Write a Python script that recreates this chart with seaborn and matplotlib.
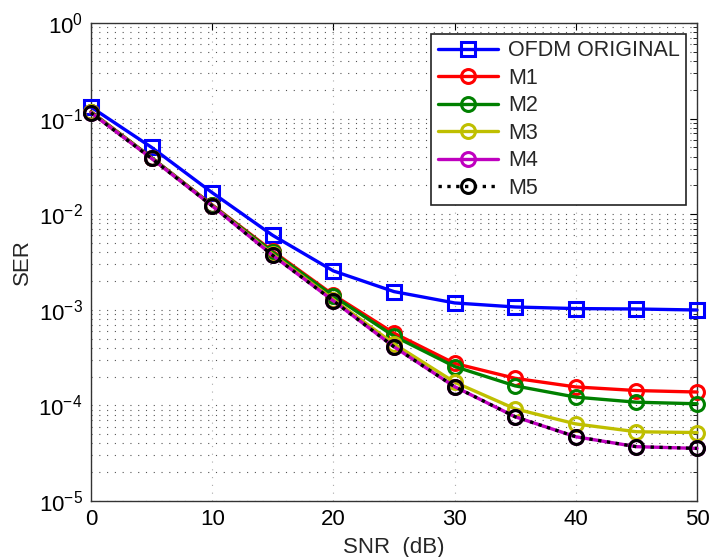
import matplotlib
matplotlib.use("Agg")
import matplotlib.pyplot as plt
import seaborn as sns
import numpy as np
import pandas as pd
from matplotlib.ticker import LogLocator, NullFormatter, FixedLocator

snr = [0, 5, 10, 15, 20, 25, 30, 35, 40, 45, 50]
ofdm = [0.132, 0.050, 0.0168, 0.0060, 0.00255, 0.00155, 0.00118, 0.00107, 0.00103, 0.00102, 0.000995]
m1 = [0.118, 0.039, 0.0125, 0.0041, 0.00143, 0.00057, 0.000275, 0.000192, 0.000156, 0.000143, 0.000138]
m2 = [0.117, 0.039, 0.0124, 0.0040, 0.00139, 0.00053, 0.000255, 0.000160, 0.000122, 0.000108, 0.000104]
m3 = [0.116, 0.0385, 0.0123, 0.0038, 0.00128, 0.00044, 0.000175, 0.000092, 0.000064, 0.000053, 0.000052]
m4 = [0.115, 0.0383, 0.0122, 0.0037, 0.00124, 0.00041, 0.000157, 0.000076, 0.000047, 0.000037, 0.0000355]
m5 = [0.115, 0.0383, 0.0122, 0.0037, 0.00124, 0.00041, 0.000157, 0.000076, 0.000047, 0.000037, 0.0000355]

names = ["OFDM ORIGINAL", "M1", "M2", "M3", "M4", "M5"]
series = [ofdm, m1, m2, m3, m4, m5]
colors = ["#0000ff", "#ff0000", "#008000", "#bfbf00", "#bf00bf", "#000000"]
markers = ["s", "o", "o", "o", "o", "o"]
styles = ["-", "-", "-", "-", "-", ":"]

sns.set_style("white")
plt.rcParams['font.family'] = ['Liberation Sans', 'DejaVu Sans']
plt.rcParams['mathtext.fontset'] = 'custom'
plt.rcParams['mathtext.rm'] = 'Liberation Sans'
plt.rcParams['mathtext.it'] = 'Liberation Sans'

fig = plt.figure(figsize=(7.12, 5.57), dpi=100)
ax = fig.add_axes([91/712, 1-501/557, (697-91)/712, (501-23)/557])

for name, vals, c, m, ls in zip(names, series, colors, markers, styles):
    df = pd.DataFrame({"SNR": snr, "SER": vals})
    sns.lineplot(data=df, x="SNR", y="SER", ax=ax, color=c, marker=m, linestyle=ls,
                 linewidth=2.4, markersize=10, markerfacecolor='none', markeredgecolor=c,
                 markeredgewidth=2.2, label=name, sort=False, clip_on=False, zorder=3)

ax.set_yscale('log')
ax.set_xlim(0, 50)
ax.set_ylim(1e-5, 1)
ax.set_xticks([0, 10, 20, 30, 40, 50])
ax.yaxis.set_major_locator(FixedLocator([1e-5, 1e-4, 1e-3, 1e-2, 1e-1, 1]))
ax.set_yticklabels([r'$10^{-5}$', r'$10^{-4}$', r'$10^{-3}$', r'$10^{-2}$', r'$10^{-1}$', r'$10^{0}$'])
ax.yaxis.set_minor_locator(LogLocator(base=10, subs=np.arange(2, 10), numticks=20))
ax.yaxis.set_minor_formatter(NullFormatter())

gls = (0, (1, 6))
ax.grid(True, which='major', axis='x', linestyle=gls, color='#aaaaaa', linewidth=0.8)
ax.grid(True, which='major', axis='y', linestyle=gls, color='#555555', linewidth=0.8)
ax.grid(True, which='minor', axis='y', linestyle=gls, color='#555555', linewidth=0.8)
ax.tick_params(which='both', direction='in', top=True, right=True, labelsize=16, colors='black')
ax.tick_params(which='major', length=5, width=0.8, pad=6)
ax.tick_params(which='minor', length=3, width=0.6)
for s in ax.spines.values():
    s.set_color('#333333')
    s.set_linewidth(1.0)

ax.set_xlabel("SNR  (dB)", fontsize=16, labelpad=5)
ax.set_ylabel("SER", fontsize=16, labelpad=4)

leg = ax.legend(loc='upper right', fontsize=15.5, frameon=True, fancybox=False,
                edgecolor='#222222', framealpha=1, borderpad=0.3, labelspacing=0.3,
                handlelength=2.8, handletextpad=0.45, borderaxespad=0.5)
leg.get_frame().set_linewidth(1.2)

fig.savefig("out.png", dpi=100)
